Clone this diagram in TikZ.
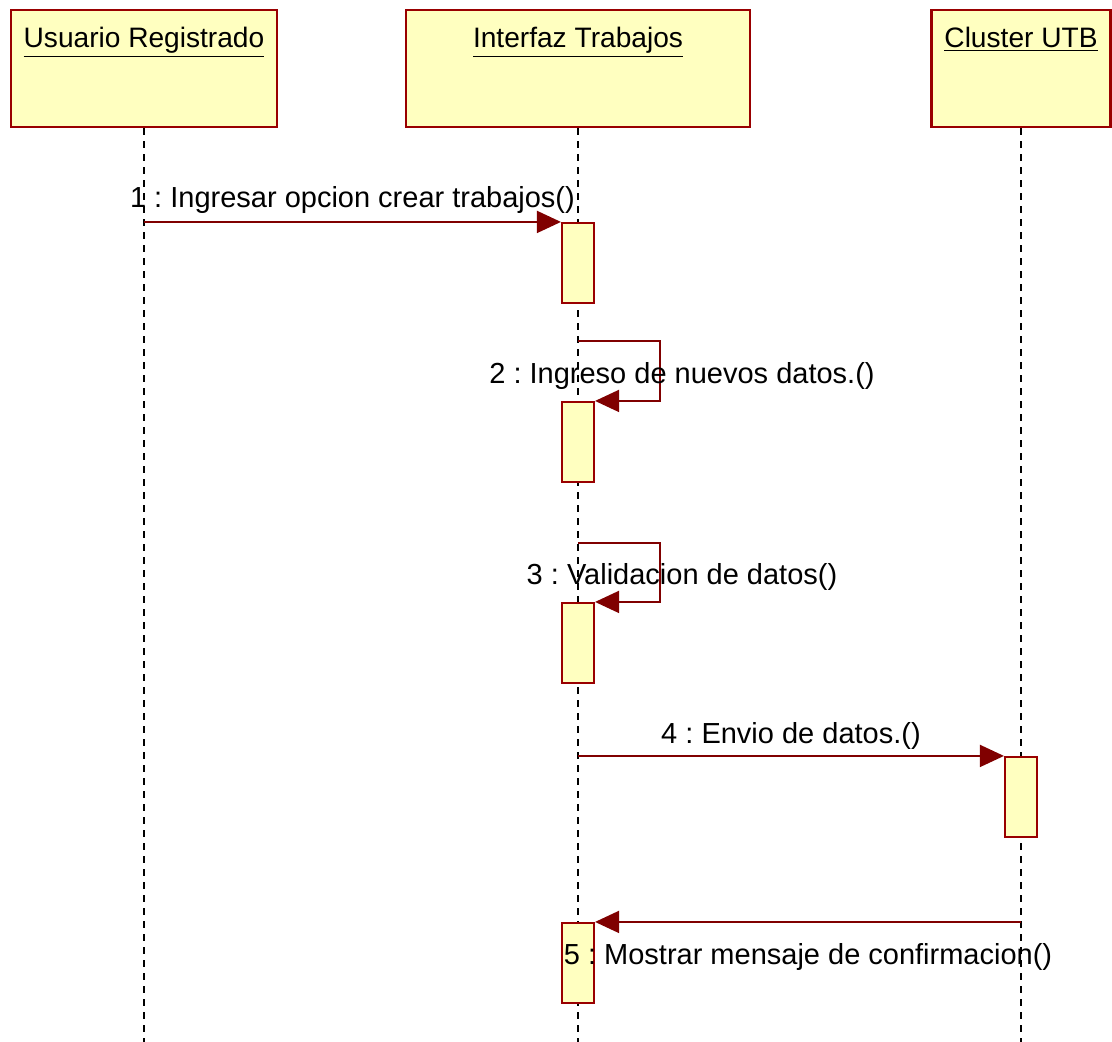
\documentclass[tikz,border=0pt]{standalone}
\usepackage{fontspec}
\setmainfont{Liberation Sans}
\usetikzlibrary{arrows.meta, positioning, calc}
\definecolor{umlfill}{HTML}{FFFFC0}
\definecolor{umlline}{HTML}{990000}
\definecolor{msgline}{HTML}{800000}
\frenchspacing
\tikzset{> = {Triangle[length = 0.48cm, width = 0.44cm]}}
\tikzset{
	headbox/.style = {draw = umlline, fill = umlfill, line width = 1.2pt, minimum height = 2.34cm},
	headname/.style = {anchor = north, inner sep = 0pt, yshift = -0.36cm, font = \fontsize{16}{19}\selectfont},
	actbox/.style = {draw = umlline, fill = umlfill, line width = 1.2pt, minimum width = 0.64cm, minimum height = 1.6cm},
	lifeline/.style = {line width = 1.1pt, dash pattern = on 0.14cm off 0.12cm},
	msg/.style = {->, draw = msgline, line width = 1pt},
	msgtext/.style = {font = \fontsize{16.5}{19}\selectfont}
}

\begin{document}
\begin{tikzpicture}
	\useasboundingbox (0, 0) rectangle (22.24, -20.84);
	\coordinate (bottom) at (0, -20.84);

	% objects
	\node [headbox, minimum width = 5.32cm, label = {[headname]north:\underline{Usuario Registrado}}] (user) at (2.88, -1.37) {};
	\node [headbox, minimum width = 6.88cm, label = {[headname]north:\underline{Interfaz Trabajos}}] (gui) at (11.56, -1.37) {};
	\node [headbox, minimum width = 3.58cm, label = {[headname]north:\underline{Cluster UTB}}] (cluster) at (20.42, -1.37) {};

	\draw [lifeline] (user.south) -- (user |- bottom);
	\draw [lifeline] (gui.south) -- (gui |- bottom);
	\draw [lifeline] (cluster.south) -- (cluster |- bottom);

	% activations
	\node [actbox] (act1) at (11.56, -5.26) {};
	\node [actbox] (act2) at (11.56, -8.84) {};
	\node [actbox] (act3) at (11.56, -12.86) {};
	\node [actbox] (act4) at (20.42, -15.94) {};
	\node [actbox] (act5) at (11.56, -19.26) {};

	% messages
	\draw [msg] (user |- act1.north west) -- node[above, yshift = 0.04cm, msgtext]{1 : Ingresar opcion crear trabajos()} (act1.north west);

	\draw [msg] ([yshift = 1.2cm]act2.north) -- ++(1.64, 0) |- (act2.north east);
	\node [msgtext] (msg2) at (13.64, -7.52) {2 : Ingreso de nuevos datos.()};

	\draw [msg] ([yshift = 1.18cm]act3.north) -- ++(1.64, 0) |- (act3.north east);
	\node [msgtext] (msg3) at (13.64, -11.54) {3 : Validacion de datos()};

	\draw [msg] (gui |- act4.north west) -- node[above, msgtext]{4 : Envio de datos.()} (act4.north west);

	\draw [msg] (cluster |- act5.north east) -- node[below, yshift = -0.3cm, msgtext]{5 : Mostrar mensaje de confirmacion()} (act5.north east);
\end{tikzpicture}
\end{document}
